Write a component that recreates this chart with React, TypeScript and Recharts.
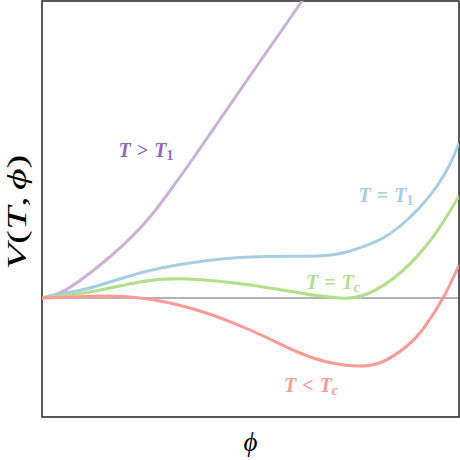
import React from "react";
import {
  LineChart,
  Line,
  XAxis,
  YAxis,
  ReferenceLine,
  ReferenceArea,
  ReferenceDot,
  Label,
} from "recharts";

// phi (arbitrary units) vs V(T, phi)
const aboveT1 = [
  { phi: 0, v: 0 }, { phi: 15, v: 4 }, { phi: 30, v: 12 }, { phi: 50, v: 26.5 },
  { phi: 70, v: 43 }, { phi: 90, v: 61.5 }, { phi: 110, v: 83.5 }, { phi: 130, v: 110 },
  { phi: 150, v: 138 }, { phi: 180, v: 181.5 }, { phi: 210, v: 225 }, { phi: 240, v: 268 },
  { phi: 261, v: 298.5 }, { phi: 290, v: 340 },
];
const atT1 = [
  { phi: 0, v: 0 }, { phi: 18, v: 4 }, { phi: 48, v: 10 }, { phi: 98, v: 25 },
  { phi: 148, v: 35 }, { phi: 208, v: 41 }, { phi: 275, v: 42 }, { phi: 308, v: 47 },
  { phi: 341, v: 60 }, { phi: 365, v: 78 }, { phi: 380, v: 93 }, { phi: 395, v: 112 },
  { phi: 408, v: 134 }, { phi: 417, v: 155 },
];
const atTc = [
  { phi: 0, v: 0 }, { phi: 48, v: 6 }, { phi: 98, v: 16 }, { phi: 145, v: 19 },
  { phi: 208, v: 13 }, { phi: 258, v: 5 }, { phi: 298, v: 0 }, { phi: 325, v: 4 },
  { phi: 358, v: 25 }, { phi: 391, v: 61 }, { phi: 417, v: 102 },
];
const belowTc = [
  { phi: 0, v: 0 }, { phi: 31, v: 1 }, { phi: 65, v: 2 }, { phi: 98, v: 0 },
  { phi: 148, v: -10 }, { phi: 208, v: -32 }, { phi: 258, v: -55 }, { phi: 290, v: -65 },
  { phi: 315, v: -68 }, { phi: 340, v: -64 }, { phi: 365, v: -48 }, { phi: 381, v: -31 },
  { phi: 401, v: 0 }, { phi: 417, v: 33 },
];

const labels = [
  { phi: 104, v: 148, sub: "1", rel: ">", color: "#9467bd" },
  { phi: 344, v: 103, sub: "1", rel: "=", color: "#a6cee3" },
  { phi: 291, v: 16, sub: "c", rel: "=", color: "#b2df8a" },
  { phi: 269, v: -87, sub: "c", rel: "<", color: "#fb9a99" },
];

const serif = "Liberation Serif";

function MathLabel({ viewBox, rel, sub, color }: any) {
  const cx = viewBox.x + viewBox.width / 2;
  const cy = viewBox.y + viewBox.height / 2;
  return (
    <text
      x={cx}
      y={cy}
      textAnchor="middle"
      dominantBaseline="central"
      fill={color}
      style={{ fontFamily: serif, fontStyle: "italic", fontWeight: 700, fontSize: 20 }}
    >
      <tspan>T</tspan>
      <tspan style={{ fontStyle: "normal" }} dx={6}>{rel}</tspan>
      <tspan dx={6}>T</tspan>
      <tspan style={{ fontSize: 14, fontStyle: sub === "1" ? "normal" : "italic" }} dy={5}>
        {sub}
      </tspan>
    </text>
  );
}

export default function App() {
  return (
    <div style={{ position: "absolute", left: 0, top: 0, background: "#fff" }}>
      <LineChart width={460} height={460} margin={{ top: 1, right: 1, left: 0, bottom: 0 }}>
        <XAxis
          type="number"
          dataKey="phi"
          domain={[0, 417]}
          allowDataOverflow
          tick={false}
          tickLine={false}
          axisLine={false}
          height={43}
        >
          <Label
            content={({ viewBox }: any) => (
              <text
                x={viewBox.x + viewBox.width / 2}
                y={viewBox.y + 25}
                textAnchor="middle"
                dominantBaseline="central"
                style={{ fontFamily: serif, fontStyle: "italic", fontSize: 27 }}
                fill="#000"
              >
                ϕ
              </text>
            )}
          />
        </XAxis>
        <YAxis
          type="number"
          domain={[-119, 297]}
          allowDataOverflow
          tick={false}
          tickLine={false}
          axisLine={false}
          width={42}
        >
          <Label
            content={({ viewBox }: any) => {
              const y = viewBox.y + viewBox.height / 2 + 3;
              return (
                <text
                  x={0}
                  y={0}
                  transform={`translate(17 ${y}) scale(1 1.55) rotate(-90)`}
                  textAnchor="middle"
                  dominantBaseline="central"
                  style={{ fontFamily: serif, fontSize: 27 }}
                  fill="#000"
                >
                  <tspan style={{ fontStyle: "italic" }}>V</tspan>(<tspan style={{ fontStyle: "italic" }}>T</tspan>,<tspan dx={4} style={{ fontStyle: "italic" }}>ϕ</tspan>)
                </text>
              );
            }}
          />
        </YAxis>
        <ReferenceLine y={0} stroke="#666" strokeWidth={1} />
        <Line data={aboveT1} dataKey="v" type="natural" stroke="#cab2d6" strokeWidth={3} dot={false} isAnimationActive={false} />
        <Line data={atT1} dataKey="v" type="natural" stroke="#a6cee3" strokeWidth={3} dot={false} isAnimationActive={false} />
        <Line data={atTc} dataKey="v" type="natural" stroke="#b2df8a" strokeWidth={3} dot={false} isAnimationActive={false} />
        <Line data={belowTc} dataKey="v" type="natural" stroke="#fb9a99" strokeWidth={3} dot={false} isAnimationActive={false} />
        {labels.map((l, i) => (
          <ReferenceDot
            key={i}
            x={l.phi}
            y={l.v}
            r={1}
            fill="none"
            stroke="none"
            label={{ content: (p: any) => <MathLabel {...p} rel={l.rel} sub={l.sub} color={l.color} /> }}
          />
        ))}
        <ReferenceArea x1={0} x2={417} y1={-119} y2={297} fill="none" stroke="#222" strokeWidth={1.5} />
      </LineChart>
    </div>
  );
}
